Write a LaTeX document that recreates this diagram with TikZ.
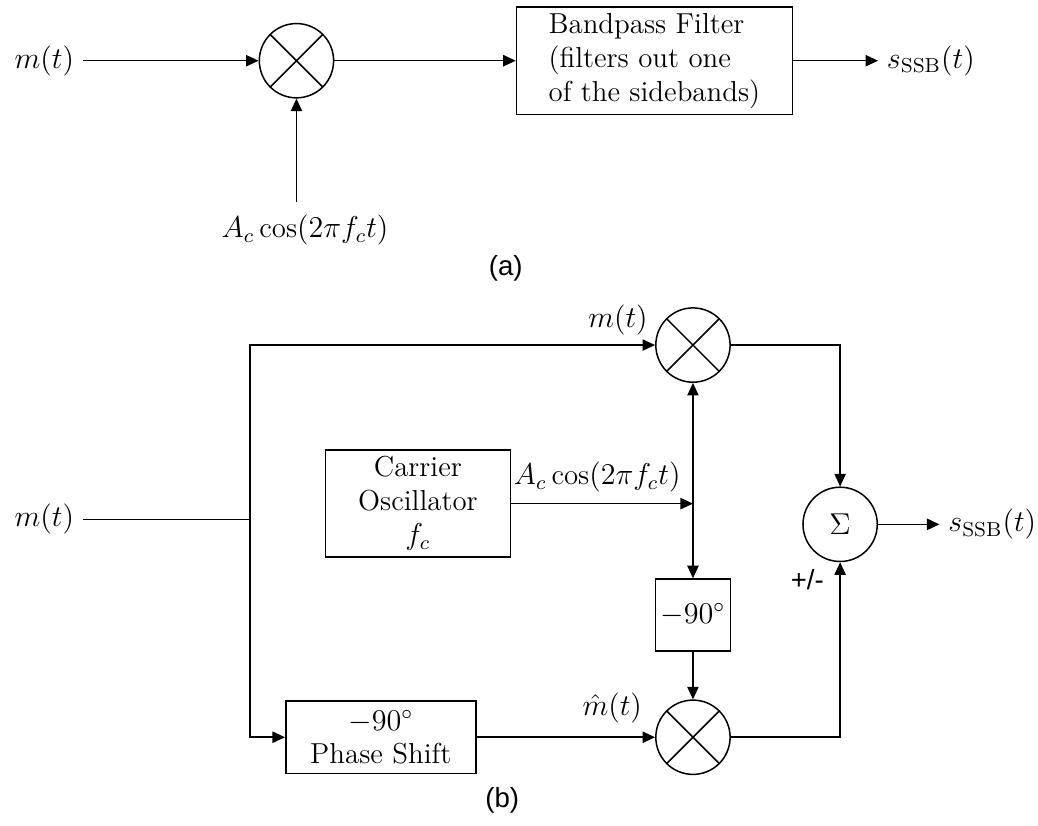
\documentclass[tikz,border=0pt]{standalone}
\usepackage{amsmath, amssymb}
\usepackage{fontspec}
\newfontfamily\capfont{Liberation Sans}
\usetikzlibrary{arrows.meta, calc}

\tikzset{
    txt/.style={font=\fontsize{11.5}{13.5}\selectfont},
    block/.style={draw, semithick, txt, align=center, inner sep=2pt},
    mixer/.style={draw, semithick, circle, minimum size=1.04cm, inner sep=0pt,
        path picture={\draw[semithick]
            (path picture bounding box.north west) -- (path picture bounding box.south east)
            (path picture bounding box.north east) -- (path picture bounding box.south west);}},
    sumnode/.style={draw, semithick, circle, minimum size=1.04cm, inner sep=0pt, font=\large},
    sig/.style={semithick, ->},
    wire/.style={semithick},
    caption/.style={font=\capfont\fontsize{11}{13}\selectfont},
}

\begin{document}
\begin{tikzpicture}[>={Triangle[length=5pt, width=4.5pt]}]
    \useasboundingbox (0,0) rectangle (14.53,11.55);

    % (a) filter method
    \node[txt] (ma) at (0.62,10.70) {$m(t)$};
    \node[mixer] (mixa) at (4.15,10.70) {};
    \node[txt] (cara) at (4.27,8.33) {$A_c\cos(2\pi f_c t)$};
    \coordinate (cina) at (4.15,8.72);
    \node[block, align=left, minimum width=3.86cm, minimum height=1.5cm]
        (bpf) at (9.16,10.70) {Bandpass Filter\\(filters out one\\of the sidebands)};
    \node[txt] (ssba) at (13.03,10.70) {$s_{\mathrm{SSB}}(t)$};
    \node[caption] (capa) at (7.08,7.80) {(a)};

    \draw[sig] (ma) -- (mixa);
    \draw[sig] (cina) -- (mixa);
    \draw[sig] (mixa) -- (bpf);
    \draw[sig] (bpf) -- (ssba);

    % (b) phase shift method
    \node[txt] (mb) at (0.62,4.28) {$m(t)$};
    \coordinate (split) at (3.50,4.28);
    \node[mixer] (mixt) at (9.70,6.72) {};
    \node[txt] (mtop) at (8.65,7.07) {$m(t)$};
    \node[block, minimum width=2.59cm, minimum height=1.5cm] (osc) at (5.85,4.50) {Carrier\\Oscillator\\$f_c$};
    \node[txt] (carb) at (8.36,4.87) {$A_c\cos(2\pi f_c t)$};
    \node[block, minimum width=1.04cm, minimum height=1.01cm] (shift) at (9.70,2.94) {$-90^\circ$};
    \node[mixer] (mixb) at (9.70,1.23) {};
    \node[block, minimum width=2.66cm, minimum height=1.01cm] (hilb) at (5.33,1.23) {$-90^\circ$\\Phase Shift};
    \node[txt] (mhat) at (8.57,1.64) {$\hat{m}(t)$};
    \node[sumnode] (sum) at (11.76,4.21) {$\Sigma$};
    \node[caption] (pm) at (11.30,3.43) {+/-};
    \node[txt] (ssbb) at (13.89,4.21) {$s_{\mathrm{SSB}}(t)$};
    \node[caption] (capb) at (7.03,0.35) {(b)};

    \draw[wire] (mb) -- (split);
    \draw[sig] (split) |- (mixt);
    \draw[sig] (split) |- (hilb);
    \draw[sig] (hilb) -- (mixb);
    \draw[sig] (osc.east) -- (osc.east -| mixt);
    \draw[semithick, <->] (mixt) -- (shift);
    \draw[sig] (shift) -- (mixb);
    \draw[sig] (mixt) -| (sum);
    \draw[sig] (mixb) -| (sum);
    \draw[sig] (sum) -- (ssbb);
\end{tikzpicture}
\end{document}
